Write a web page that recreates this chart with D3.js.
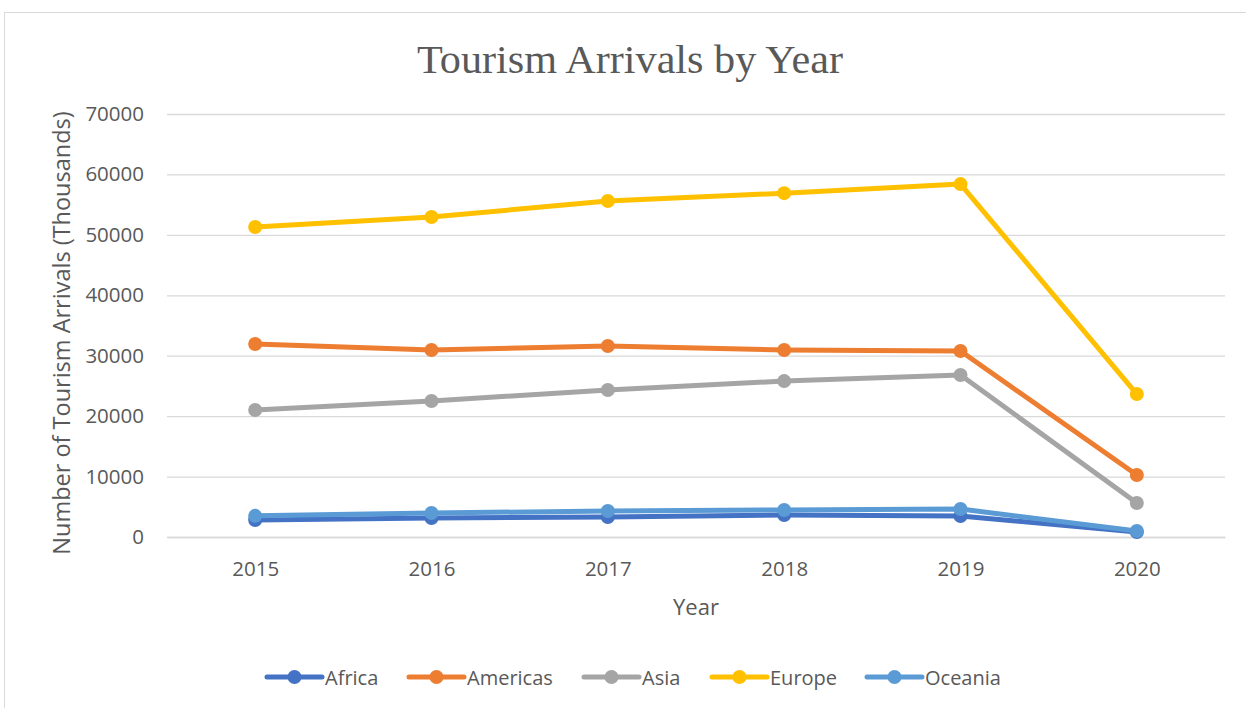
<!DOCTYPE html>
<html><head><meta charset="utf-8">
<script src="https://cdn.jsdelivr.net/npm/d3@7"></script>
<style>body{margin:0;background:#fff;}svg{display:block;}</style>
</head><body>
<svg id="chart" width="1246" height="708"></svg>
<script>
const years = ["2015","2016","2017","2018","2019","2020"];
const seriesNames = ["Africa","Americas","Asia","Europe","Oceania"];
const africa   = [2800, 3150, 3300, 3640, 3470, 830];
const americas = [31940, 30950, 31600, 30950, 30780, 10260];
const asia     = [21020, 22500, 24330, 25800, 26800, 5630];
const europe   = [51300, 52950, 55600, 56900, 58400, 23660];
const oceania  = [3500, 3970, 4300, 4470, 4630, 1000];
const yTicks = [0,10000,20000,30000,40000,50000,60000,70000];
const colors = ["#4472C4","#ED7D31","#A5A5A5","#FFC000","#5B9BD5"];
const values = [africa, americas, asia, europe, oceania];

const FONT = "'Open Sans', 'Noto Sans', sans-serif";
const svg = d3.select("#chart");
const M = {left:167, right:1225, top:114, bottom:537};

svg.append("rect").attr("x",4.5).attr("y",12.5).attr("width",1260).attr("height",720)
  .attr("fill","#fff").attr("stroke","#D9D9D9").attr("stroke-width",1);

const x = d3.scalePoint().domain(years).range([M.left, M.right]).padding(0.5);
const y = d3.scaleLinear().domain([0,70000]).range([M.bottom, M.top]);

// gridlines + y labels
const yAxis = d3.axisLeft(y).tickValues(yTicks).tickSize(-(M.right-M.left)).tickPadding(23).tickFormat(d3.format("d"));
const gy = svg.append("g").attr("transform",`translate(${M.left},0)`).call(yAxis);
gy.select(".domain").remove();
gy.selectAll(".tick line").attr("stroke","#D9D9D9").attr("stroke-width",1.3);
gy.selectAll(".tick text").attr("fill","#595959").style("font-family",FONT).style("font-size","20.5px");

const xAxis = d3.axisBottom(x).tickSize(0).tickPadding(24);
const gx = svg.append("g").attr("transform",`translate(0,${M.bottom})`).call(xAxis);
gx.select(".domain").attr("stroke","#D9D9D9").attr("stroke-width",1.3);
gx.selectAll(".tick text").attr("fill","#595959").style("font-family",FONT).style("font-size","20.5px");

// title
svg.append("text").attr("x",630).attr("y",73).attr("text-anchor","middle")
  .attr("textLength",426).attr("lengthAdjust","spacingAndGlyphs")
  .attr("fill","#595959").style("font-family","'Liberation Serif', 'DejaVu Serif', serif").style("font-size","40px")
  .text("Tourism Arrivals by Year");

// axis titles
svg.append("text").attr("x",696).attr("y",615).attr("text-anchor","middle")
  .attr("fill","#595959").style("font-family",FONT).style("font-size","22px").text("Year");
svg.append("text").attr("transform","translate(70,333) rotate(-90)").attr("text-anchor","middle")
  .attr("fill","#595959").style("font-family",FONT).style("font-size","23.5px")
  .text("Number of Tourism Arrivals (Thousands)");

const line = d3.line().x((d,i)=>x(years[i])).y(d=>y(d));
seriesNames.forEach((name,k)=>{
  const g = svg.append("g");
  g.append("path").datum(values[k]).attr("d",line).attr("fill","none")
    .attr("stroke",colors[k]).attr("stroke-width",5).attr("stroke-linejoin","round");
  g.selectAll("circle").data(values[k]).join("circle")
    .attr("cx",(d,i)=>x(years[i])).attr("cy",d=>y(d)).attr("r",7).attr("fill",colors[k]);
});

// legend
const legX = [267, 409, 584, 712, 867];
const legY = 677;
seriesNames.forEach((name,k)=>{
  const g = svg.append("g").attr("transform",`translate(${legX[k]},${legY})`);
  g.append("line").attr("x1",0).attr("x2",55).attr("y1",0).attr("y2",0)
    .attr("stroke",colors[k]).attr("stroke-width",5).attr("stroke-linecap","round");
  g.append("circle").attr("cx",27.5).attr("cy",0).attr("r",7).attr("fill",colors[k]);
  g.append("text").attr("x",58).attr("y",7.5).attr("fill","#595959")
    .style("font-family",FONT).style("font-size","20px").text(name);
});
</script>
</body></html>
